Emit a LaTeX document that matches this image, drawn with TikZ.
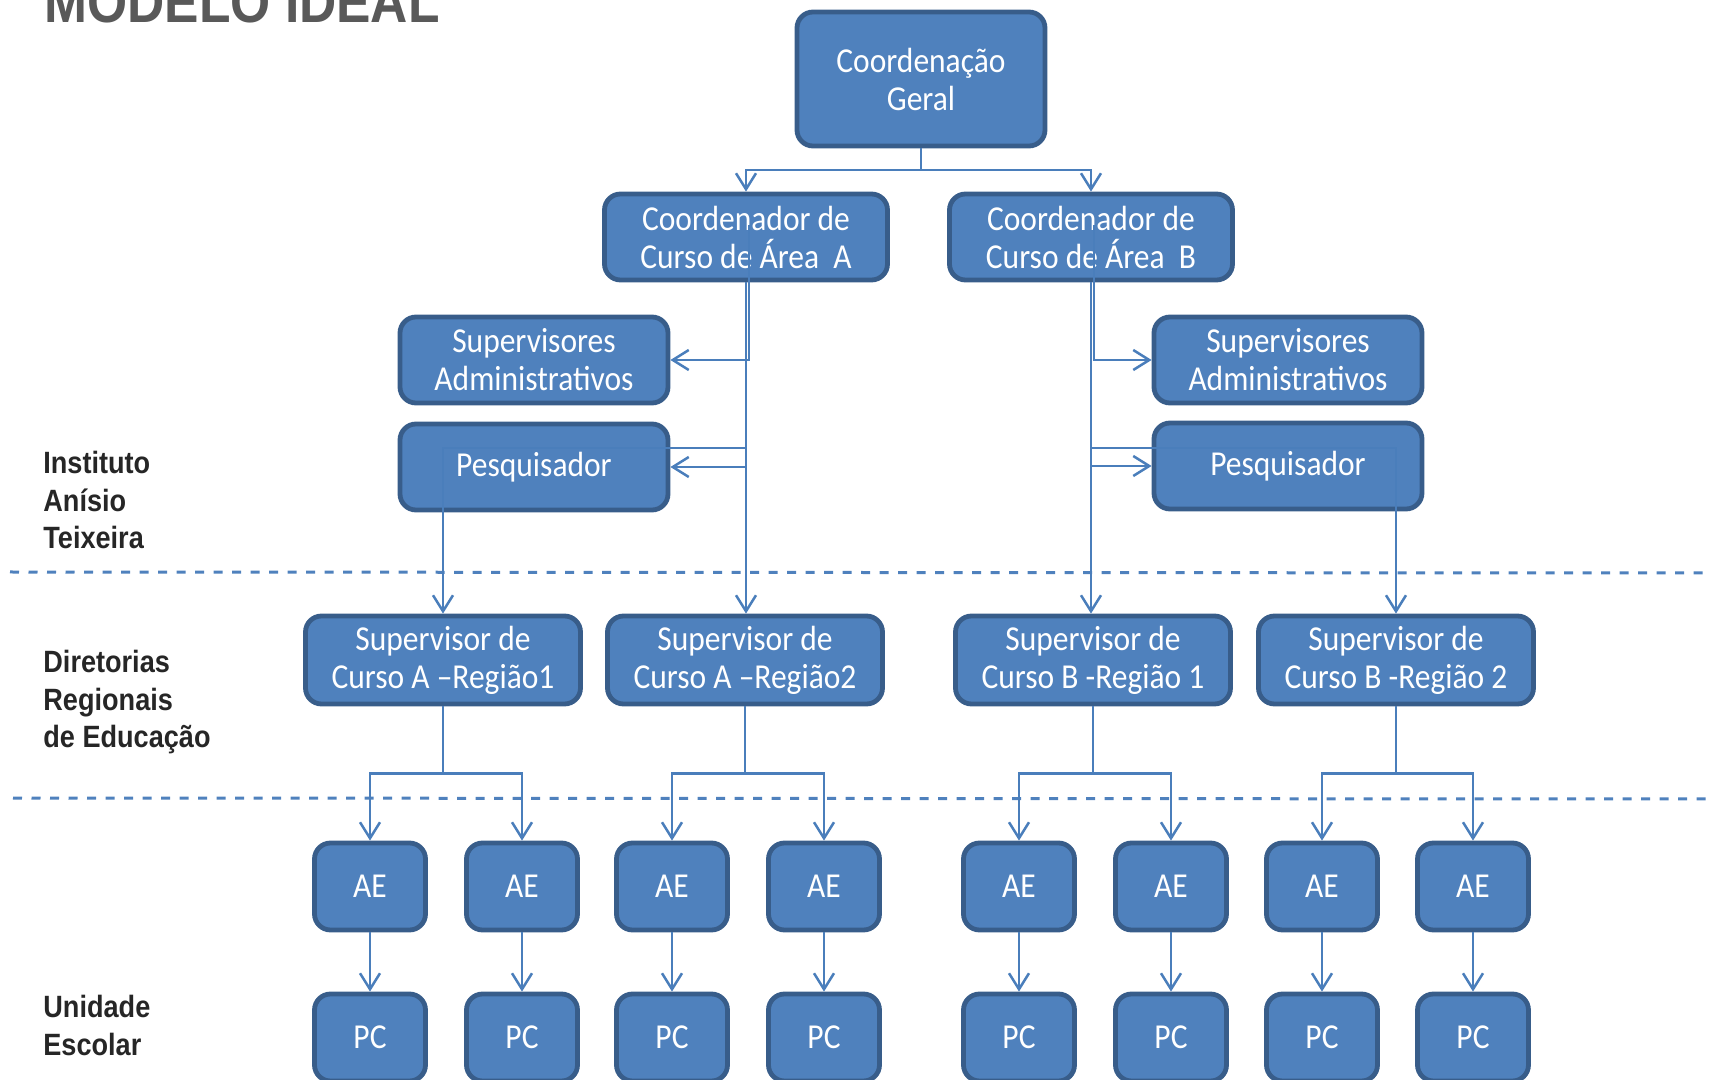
\documentclass[tikz,border=0pt]{standalone}
\usepackage{fontspec}
\usetikzlibrary{arrows.meta,calc}
\newfontfamily\boxfont{Carlito}[FakeStretch=0.9]
\newfontfamily\labfont{Liberation Sans}[FakeStretch=0.88]
\definecolor{boxfill}{HTML}{4F81BD}
\definecolor{boxline}{HTML}{385D8A}
\definecolor{connc}{HTML}{4A7EBB}
\definecolor{dashc}{HTML}{4F81BD}
\definecolor{labc}{HTML}{262626}
\definecolor{titc}{HTML}{595959}
\begin{document}
\begin{tikzpicture}[x=0.5pt,y=-0.5pt,
  box/.style={draw=boxline, fill=boxfill, line width=2.4pt, rounded corners=8pt,
    text=white, align=center, inner sep=0pt,
    font=\boxfont\fontsize{17.5}{19}\selectfont},
  wide/.style={box, minimum width=141.5pt, minimum height=43pt},
  mid/.style={box, minimum width=134pt, minimum height=43pt},
  reg/.style={box, minimum width=137.5pt, minimum height=44pt},
  small/.style={box, minimum width=55.5pt, minimum height=43.5pt},
  conn/.style={draw=connc, line width=1.25pt},
  arr/.style={conn, -{Straight Barb[length=8pt,width=10pt]}},
  dashline/.style={draw=dashc, line width=1.5pt, dash pattern=on 4.5pt off 4.75pt},
  lab/.style={anchor=north west, inner sep=0pt, align=left, text=labc,
    font=\labfont\bfseries\fontsize{15.4}{18.75}\selectfont}
]
\useasboundingbox (0,0) rectangle (1710,1080);

% title
\node[anchor=base west, inner sep=0pt, text=titc,
  font=\labfont\bfseries\fontsize{29.3}{32}\selectfont] (title) at (44,23) {MODELO IDEAL};

% left labels
\node[lab] (l1) at (43,451) {Instituto\\Anísio\\Teixeira};
\node[lab] (l2) at (43,650) {Diretorias\\Regionais\\de Educação};
\node[lab] (l3) at (43,995) {Unidade\\Escolar};

% dashed separators
\coordinate (d1a) at (10,572);  \coordinate (d1b) at (1710,573);
\coordinate (d2a) at (13,798);  \coordinate (d2b) at (1710,799);
\draw[dashline] (d1a) -- (d1b);
\draw[dashline] (d2a) -- (d2b);

% boxes
\node[box, minimum width=124pt, minimum height=67pt] (cg) at (921,79) {Coordenação\\Geral};
\node[wide] (cA) at (746,237) {Coordenador de\\Curso de Área~ A};
\node[wide] (cB) at (1091,237) {Coordenador de\\Curso de Área~ B};
\node[mid] (saA) at (534,360) {Supervisores\\Administrativos};
\node[mid] (pA) at (534,467) {Pesquisador};
\node[mid] (saB) at (1288,360) {Supervisores\\Administrativos};
\node[mid] (pB) at (1288,466) {Pesquisador};
\node[reg] (r1) at (443,660) {Supervisor de\\Curso A –Região1};
\node[reg] (r2) at (745,660) {Supervisor de\\Curso A –Região2};
\node[reg] (r3) at (1093,660) {Supervisor de\\Curso B -Região 1};
\node[reg] (r4) at (1396,660) {Supervisor de\\Curso B -Região 2};

\foreach \i/\x in {1/370,2/522,3/672,4/824,5/1019,6/1171,7/1322,8/1473}{
  \node[small] (ae\i) at (\x,886.5) {AE};
  \node[small] (pc\i) at (\x,1037.5) {PC};
  \draw[arr] (ae\i.south) -- (pc\i.north);
}

% top connectors
\coordinate (top) at (921,170);
\draw[conn] (cg.south) -- (top);
\draw[arr] (top) -| (cA.north);
\draw[arr] (top) -| (cB.north);

% area A connectors
\coordinate (jA) at (746,448);
\draw[arr] ($(cA.center)+(3,-12)$) |- (saA.east);
\draw[arr] (cA.south) -- (cA.south |- r2.north);
\draw[arr] (cA.south |- pA.east) -- (pA.east);
\draw[arr] (jA) -| (r1.north);

% area B connectors
\coordinate (jB) at (1091,448);
\draw[arr] ($(cB.center)+(3,-12)$) |- (saB.west);
\draw[arr] (cB.south) -- (cB.south |- r3.north);
\draw[arr] (cB.south |- pB.west) -- (pB.west);
\draw[arr] (jB) -| (r4.north);

% regional to AE
\foreach \r/\a/\b in {r1/ae1/ae2, r2/ae3/ae4, r3/ae5/ae6, r4/ae7/ae8}{
  \coordinate (\r j) at ($(\r.south)+(0,67)$);
  \draw[conn] (\r.south) -- (\r j);
  \draw[arr] (\r j) -| (\a.north);
  \draw[arr] (\r j) -| (\b.north);
}
\end{tikzpicture}
\end{document}
